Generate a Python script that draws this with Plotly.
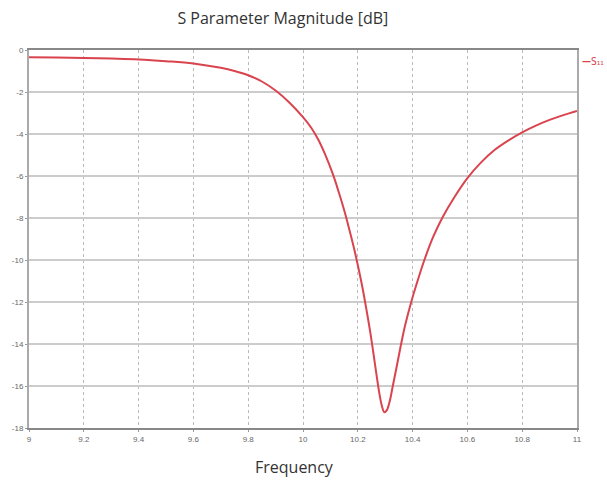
import plotly.graph_objects as go

freq = [9.0, 9.1, 9.2, 9.3, 9.4, 9.5, 9.6, 9.7, 9.75, 9.8, 9.85, 9.9, 9.95, 10.0,
        10.03, 10.055, 10.08, 10.11, 10.13, 10.153, 10.17, 10.189, 10.205, 10.219, 10.232,
        10.245, 10.256, 10.267, 10.278, 10.288, 10.297, 10.306, 10.316, 10.327, 10.34,
        10.355, 10.373, 10.395, 10.418, 10.443, 10.475, 10.51, 10.553, 10.6, 10.65, 10.7,
        10.75, 10.8, 10.85, 10.9, 10.95, 11.0]
s11 = [-0.35, -0.36, -0.38, -0.41, -0.45, -0.53, -0.64, -0.85, -1.0, -1.2, -1.5, -1.93, -2.5, -3.2,
       -3.7, -4.25, -4.95, -5.95, -6.75, -7.75, -8.6, -9.6, -10.55, -11.45, -12.4,
       -13.4, -14.35, -15.35, -16.3, -16.95, -17.25, -17.15, -16.75, -16.05, -15.2,
       -14.2, -13.1, -12.0, -11.0, -10.0, -8.9, -7.95, -7.0, -6.1, -5.35, -4.75,
       -4.3, -3.92, -3.6, -3.33, -3.1, -2.9]

x_ticks = [9, 9.2, 9.4, 9.6, 9.8, 10, 10.2, 10.4, 10.6, 10.8, 11]
x_tick_text = ["9", "9.2", "9.4", "9.6", "9.8", "10", "10.2", "10.4", "10.6", "10.8", "11"]
y_ticks = [0, -2, -4, -6, -8, -10, -12, -14, -16, -18]
y_tick_text = ["0", "-2", "-4", "-6", "-8", "-10", "-12", "-14", "-16", "-18"]

red = "#d9444e"
tickfont = dict(family="Liberation Sans Narrow, Arial Narrow, sans-serif", size=8, color="#666666")

fig = go.Figure()
fig.add_trace(go.Scatter(x=freq, y=s11, mode="lines", name="S11",
                         line=dict(color=red, width=2, shape="spline", smoothing=1.0),
                         showlegend=False))

fig.update_layout(
    width=607, height=491,
    margin=dict(l=21, r=30, t=50, b=63),
    paper_bgcolor="white", plot_bgcolor="white",
    title=dict(text="S Parameter Magnitude [dB]", x=0.466, xanchor="center", y=0.962, yanchor="middle",
               font=dict(family="Open Sans, sans-serif", size=16, color="#333333")),
    xaxis=dict(range=[9, 11], tickvals=x_ticks, ticktext=x_tick_text, tickfont=tickfont,
               showgrid=True, gridcolor="#bbbbbb", griddash="dot", gridwidth=1,
               showline=True, linecolor="#888888", linewidth=2, mirror=True,
               ticks="outside", ticklen=2, tickcolor="#999999", zeroline=False),
    yaxis=dict(range=[-18, 0], tickvals=y_ticks, ticktext=y_tick_text, tickfont=tickfont,
               showgrid=True, gridcolor="#cccccc", gridwidth=2,
               showline=True, linecolor="#aaaaaa", linewidth=2, mirror=True,
               ticks="outside", ticklen=2, tickcolor="#999999", zeroline=False),
    annotations=[
        dict(text="Frequency", x=0.484, y=-0.103, xref="paper", yref="paper",
             xanchor="center", yanchor="middle", showarrow=False,
             font=dict(family="Open Sans, sans-serif", size=16, color="#333333")),
        dict(text="<b>—</b>S₁₁", x=1.005, y=0.97,
             xref="paper", yref="paper", xanchor="left", yanchor="middle",
             showarrow=False, font=dict(size=10, color=red,
                                        family="DejaVu Sans Condensed, Liberation Sans Narrow, sans-serif"))],
)

fig.write_html("out.html")
